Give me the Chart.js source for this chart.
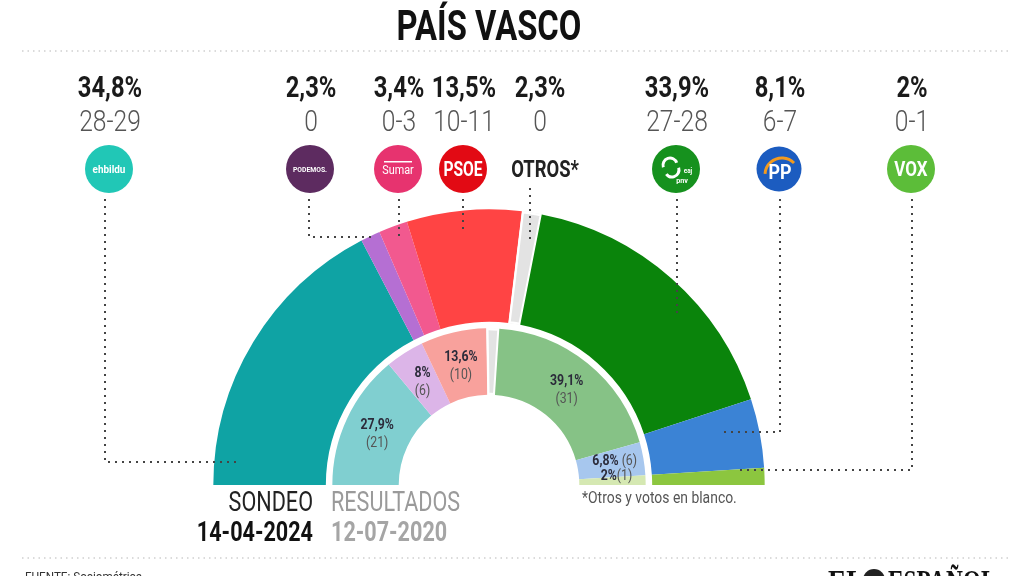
<!DOCTYPE html>
<html lang="es">
<head>
<meta charset="utf-8">
<title>País Vasco – sondeo</title>
<script src="https://cdn.jsdelivr.net/npm/chart.js@4.4.1/dist/chart.umd.min.js"></script>
<style>
  html, body { margin: 0; padding: 0; background: #fff; }
  #wrap { position: relative; width: 1024px; height: 576px; overflow: hidden; background: #fff; }
  #wrap canvas { position: absolute; left: 0; top: 0; }
</style>
</head>
<body>
<div id="wrap">
  <canvas id="chart-sondeo" width="1024" height="576"></canvas>
  <canvas id="chart-resultados" width="1024" height="576"></canvas>
</div>
<script>
/* ==========================================================
   DATOS
   ==========================================================*/
const partidos = ["EH Bildu", "Podemos", "Sumar", "PSOE", "Otros*", "PNV", "PP", "Vox"];

// sondeo 14-04-2024 (anillo exterior)
const sondeo2024 = [34.8, 2.3, 3.4, 13.5, 2.3, 33.9, 8.1, 2];
const escanos2024 = ["28-29", "0", "0-3", "10-11", "0", "27-28", "6-7", "0-1"];

// resultados 12-07-2020 (anillo interior)
const resultados2020 = [27.9, 8, 0, 13.6, 2.6, 39.1, 6.8, 2];
const escanos2020 = [21, 6, 0, 10, null, 31, 6, 1];

/* ==========================================================
   ESTILOS Y MAQUETACIÓN
   ==========================================================*/
const coloresSondeo = ["#0fa3a4", "#b56fd3", "#f2598f", "#ff4444", "#e3e3e3", "#0a840b", "#3b83d5", "#8cc63f"];
const coloresResultados = ["#80cfd0", "#dcb5e8", "#f7a6c4", "#f8a19c", "#e3e3e3", "#86c286", "#a7c7ee", "#d5e8b2"];
const bordesSondeo = [0, 0, 0, 0, 2, 0, 0, 0];
const bordesResultados = [0, 0, 0, 0, 2, 0, 0, 0];

// columnas de la cabecera (x de cada partido)
const columnasX = [110, 311, 399, 464, 540, 677, 780, 912];
// guías punteadas: [x vertical, y final, x final del tramo horizontal]
const guias = [
  [105, 462, 237],
  [309, 237, 373],
  [399, 240, null],
  [463, 232, null],
  [530, 240, null],
  [677, 318, null],
  [780, 432, 720],
  [912, 470, 738],
];

const FONT = "Roboto, 'Liberation Sans', sans-serif";

/* ==========================================================
   UTILIDADES DE DIBUJO
   ==========================================================*/
function texto(ctx, str, x, y, font, color, align = "center", sx = 0.82) {
  ctx.save();
  ctx.font = font;
  ctx.fillStyle = color;
  ctx.textAlign = align;
  ctx.textBaseline = "alphabetic";
  ctx.translate(x, y);
  ctx.scale(sx, 1);
  ctx.fillText(str, 0, 0);
  ctx.restore();
}

function fmtPct(v) {
  return String(v).replace(".", ",") + "%";
}

function punteada(ctx, pts, color, width, dash) {
  ctx.save();
  ctx.strokeStyle = color;
  ctx.lineWidth = width;
  ctx.setLineDash(dash);
  ctx.beginPath();
  ctx.moveTo(pts[0][0], pts[0][1]);
  for (let i = 1; i < pts.length; i++) ctx.lineTo(pts[i][0], pts[i][1]);
  ctx.stroke();
  ctx.restore();
}

function circulo(ctx, x, y, r, color) {
  ctx.beginPath();
  ctx.arc(x, y, r, 0, Math.PI * 2);
  ctx.fillStyle = color;
  ctx.fill();
}

function dibujarLogo(ctx, i, x, y) {
  const r = 24;
  ctx.save();
  switch (i) {
    case 0: // EH Bildu
      circulo(ctx, x, y, r, "#21c7b6");
      texto(ctx, "ehbildu", x, y + 4, `bold 11px ${FONT}`, "#fff", "center", 0.9);
      break;
    case 1: // Podemos
      circulo(ctx, x, y, r, "#5d2b60");
      texto(ctx, "PODEMOS.", x, y + 3, `bold 8px ${FONT}`, "#fff", "center", 0.85);
      break;
    case 2: // Sumar
      circulo(ctx, x, y, r, "#e7336f");
      ctx.fillStyle = "#fff";
      ctx.fillRect(x - 14, y - 8, 28, 1.5);
      texto(ctx, "Sumar", x, y + 5, `12px ${FONT}`, "#fff", "center", 0.9);
      break;
    case 3: // PSOE
      circulo(ctx, x, y, r, "#e20a14");
      texto(ctx, "PSOE", x, y + 7, `bold 20px ${FONT}`, "#fff", "center", 0.78);
      break;
    case 4: // Otros
      texto(ctx, "OTROS*", x + 5, y + 8, `bold 23px ${FONT}`, "#222", "center", 0.8);
      break;
    case 5: // PNV
      circulo(ctx, x, y, r, "#16911e");
      ctx.strokeStyle = "#fff";
      ctx.lineWidth = 3;
      ctx.beginPath();
      ctx.arc(x - 6, y - 4, 7, Math.PI * 0.9, Math.PI * 1.9);
      ctx.stroke();
      ctx.beginPath();
      ctx.arc(x - 4, y + 1, 7, Math.PI * -0.1, Math.PI * 0.8);
      ctx.stroke();
      texto(ctx, "pnv", x + 6, y + 14, `bold 8px ${FONT}`, "#fff", "center", 0.9);
      texto(ctx, "eaj", x + 12, y + 4, `bold 7px ${FONT}`, "#fff", "center", 0.9);
      break;
    case 6: // PP
      circulo(ctx, x, y, r, "#fff");
      circulo(ctx, x, y, r - 1.5, "#1c5cc0");
      ctx.strokeStyle = "#f39a1e";
      ctx.lineWidth = 3;
      ctx.beginPath();
      ctx.arc(x + 3, y + 6, 17, Math.PI * 1.02, Math.PI * 1.75);
      ctx.stroke();
      texto(ctx, "PP", x + 1, y + 10, `bold 21px ${FONT}`, "#fff", "center", 0.85);
      break;
    case 7: // Vox
      circulo(ctx, x, y, r, "#5cbd39");
      texto(ctx, "VOX", x, y + 7, `bold 20px ${FONT}`, "#fff", "center", 0.85);
      break;
  }
  ctx.restore();
}

/* ==========================================================
   PLUGIN: CABECERA, GUÍAS, LEYENDA Y PIE
   ==========================================================*/
const anotaciones = {
  id: "anotaciones",
  beforeDraw(chart) {
    const ctx = chart.ctx;
    ctx.save();
    ctx.fillStyle = "#fff";
    ctx.fillRect(0, 0, chart.width, chart.height);
    ctx.restore();
  },
  afterDatasetsDraw(chart) {
    const ctx = chart.ctx;

    // título y separadores
    texto(ctx, "PAÍS VASCO", 489, 40, `bold 42px ${FONT}`, "#111", "center", 0.78);
    punteada(ctx, [[22, 51], [1010, 51]], "#cfcfcf", 1.5, [1.5, 4]);
    punteada(ctx, [[22, 558], [1010, 558]], "#cfcfcf", 1.5, [1.5, 4]);

    // cabecera por partido
    partidos.forEach((p, i) => {
      const x = columnasX[i];
      texto(ctx, fmtPct(sondeo2024[i]), x, 97, `bold 29px ${FONT}`, "#1a1a1a", "center", 0.82);
      texto(ctx, escanos2024[i], x, 131, `300 30px ${FONT}`, "#555", "center", 0.82);
      dibujarLogo(ctx, i, x - (i === 4 ? 0 : 1), 169);
    });

    // guías punteadas hacia cada sector
    guias.forEach(([gx, gy, hx], i) => {
      const y0 = i === 4 ? 188 : 199;
      const pts = [[gx, y0], [gx, gy]];
      if (hx !== null) pts.push([hx, gy]);
      punteada(ctx, pts, "#444", 2, [2, 5]);
    });

    // leyenda de los anillos
    texto(ctx, "SONDEO", 313, 511, `27px ${FONT}`, "#222", "right", 0.8);
    texto(ctx, "14-04-2024", 313, 541, `bold 27px ${FONT}`, "#111", "right", 0.8);
    texto(ctx, "RESULTADOS", 331, 511, `27px ${FONT}`, "#9a9a9a", "left", 0.8);
    texto(ctx, "12-07-2020", 331, 541, `bold 27px ${FONT}`, "#a5a5a5", "left", 0.8);
    texto(ctx, "*Otros y votos en blanco.", 582, 503, `16px ${FONT}`, "#555", "left", 0.87);

    // pie
    texto(ctx, "FUENTE: Sociométrica", 25, 581, `13px ${FONT}`, "#333", "left", 0.9);
    texto(ctx, "EL", 828, 592, `bold 32px 'Liberation Serif', serif`, "#111", "left", 0.85);
    circulo(ctx, 874, 580, 11, "#222");
    texto(ctx, "ESPAÑOL", 888, 592, `bold 32px 'Liberation Serif', serif`, "#111", "left", 0.73);
  },
};

/* ==========================================================
   PLUGIN: ETIQUETAS DEL ANILLO INTERIOR
   ==========================================================*/
const etiquetasInteriores = {
  id: "etiquetasInteriores",
  afterDatasetsDraw(chart) {
    const ctx = chart.ctx;
    const arcs = chart.getDatasetMeta(0).data;
    arcs.forEach((arc, i) => {
      const escanos = escanos2020[i];
      if (!escanos) return;
      const pos = arc.tooltipPosition();
      const pct = fmtPct(resultados2020[i]);
      if (resultados2020[i] >= 7.5) {
        texto(ctx, pct, pos.x, pos.y - 4, `bold 15px ${FONT}`, "#2b2b3a", "center", 0.82);
        texto(ctx, `(${escanos})`, pos.x, pos.y + 14, `15px ${FONT}`, "#555", "center", 0.82);
      } else {
        const sep = resultados2020[i] >= 5 ? " " : "";
        ctx.save();
        ctx.font = `bold 15px ${FONT}`;
        const w1 = ctx.measureText(pct).width * 0.82;
        ctx.font = `15px ${FONT}`;
        const w2 = ctx.measureText(`${sep}(${escanos})`).width * 0.82;
        ctx.restore();
        const x0 = pos.x + 4 - (w1 + w2) / 2;
        const y = pos.y + (resultados2020[i] >= 5 ? 1 : -1);
        texto(ctx, pct, x0, y, `bold 15px ${FONT}`, "#2b2b3a", "left", 0.82);
        texto(ctx, `${sep}(${escanos})`, x0 + w1, y, `15px ${FONT}`, "#555", "left", 0.82);
      }
    });
  },
};

/* ==========================================================
   GRÁFICOS
   ==========================================================*/
const baseOpciones = {
  responsive: false,
  animation: false,
  devicePixelRatio: 1,
  events: [],
  rotation: -90,
  circumference: 180,
  plugins: { legend: { display: false }, tooltip: { enabled: false } },
};

// anillo exterior: sondeo 2024 (centro 489,485; radio 276)
new Chart(document.getElementById("chart-sondeo"), {
  type: "doughnut",
  data: {
    labels: partidos,
    datasets: [
      {
        data: sondeo2024,
        backgroundColor: coloresSondeo,
        borderColor: "#fff",
        borderWidth: bordesSondeo,
        borderAlign: "inner",
        hoverBorderWidth: 0,
        hoverOffset: 0,
        offset: 0,
      },
    ],
  },
  options: {
    ...baseOpciones,
    cutout: "59%",
    layout: { padding: { left: 213, top: 209, right: 259, bottom: 91 } },
  },
  plugins: [anotaciones],
});

// anillo interior: resultados 2020 (radio 157)
new Chart(document.getElementById("chart-resultados"), {
  type: "doughnut",
  data: {
    labels: partidos,
    datasets: [
      {
        data: resultados2020,
        backgroundColor: coloresResultados,
        borderColor: "#fff",
        borderWidth: bordesResultados,
        borderAlign: "inner",
        hoverBorderWidth: 0,
        hoverOffset: 0,
        offset: 0,
      },
    ],
  },
  options: {
    ...baseOpciones,
    cutout: "57.3%",
    layout: { padding: { left: 332, top: 328, right: 378, bottom: 91 } },
  },
  plugins: [etiquetasInteriores],
});
</script>
</body>
</html>
